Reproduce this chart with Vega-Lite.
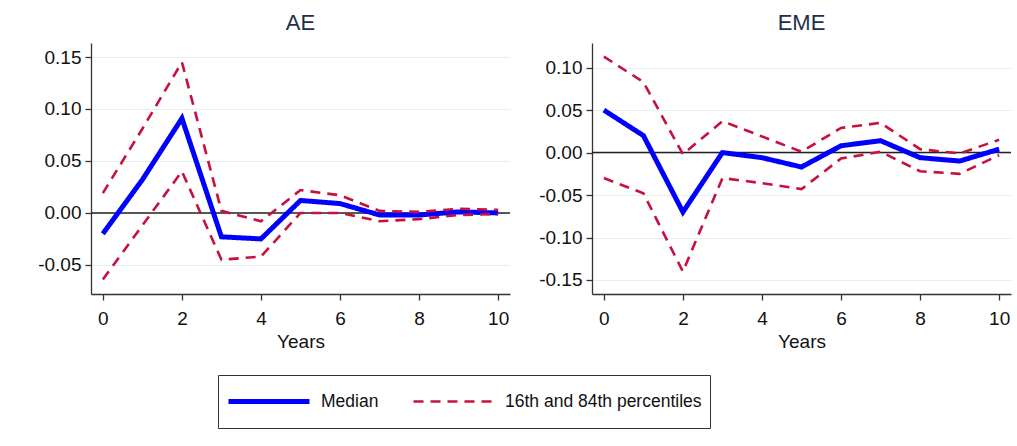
{
  "$schema": "https://vega.github.io/schema/vega-lite/v6.json",
  "background": "white",
  "padding": {"left": 37, "top": 12, "right": 5, "bottom": 5},
  "datasets": {
    "irf": [
      {"panel": "AE", "year": 0, "series": "Median", "bound": "mid", "value": -0.020},
      {"panel": "AE", "year": 1, "series": "Median", "bound": "mid", "value": 0.032},
      {"panel": "AE", "year": 2, "series": "Median", "bound": "mid", "value": 0.091},
      {"panel": "AE", "year": 3, "series": "Median", "bound": "mid", "value": -0.023},
      {"panel": "AE", "year": 4, "series": "Median", "bound": "mid", "value": -0.025},
      {"panel": "AE", "year": 5, "series": "Median", "bound": "mid", "value": 0.012},
      {"panel": "AE", "year": 6, "series": "Median", "bound": "mid", "value": 0.009},
      {"panel": "AE", "year": 7, "series": "Median", "bound": "mid", "value": -0.002},
      {"panel": "AE", "year": 8, "series": "Median", "bound": "mid", "value": -0.002},
      {"panel": "AE", "year": 9, "series": "Median", "bound": "mid", "value": 0.001},
      {"panel": "AE", "year": 10, "series": "Median", "bound": "mid", "value": 0.000},
      {"panel": "AE", "year": 0, "series": "16th and 84th percentiles", "bound": "hi", "value": 0.019},
      {"panel": "AE", "year": 1, "series": "16th and 84th percentiles", "bound": "hi", "value": 0.081},
      {"panel": "AE", "year": 2, "series": "16th and 84th percentiles", "bound": "hi", "value": 0.145},
      {"panel": "AE", "year": 3, "series": "16th and 84th percentiles", "bound": "hi", "value": 0.002},
      {"panel": "AE", "year": 4, "series": "16th and 84th percentiles", "bound": "hi", "value": -0.008},
      {"panel": "AE", "year": 5, "series": "16th and 84th percentiles", "bound": "hi", "value": 0.022},
      {"panel": "AE", "year": 6, "series": "16th and 84th percentiles", "bound": "hi", "value": 0.017},
      {"panel": "AE", "year": 7, "series": "16th and 84th percentiles", "bound": "hi", "value": 0.002},
      {"panel": "AE", "year": 8, "series": "16th and 84th percentiles", "bound": "hi", "value": 0.001},
      {"panel": "AE", "year": 9, "series": "16th and 84th percentiles", "bound": "hi", "value": 0.004},
      {"panel": "AE", "year": 10, "series": "16th and 84th percentiles", "bound": "hi", "value": 0.003},
      {"panel": "AE", "year": 0, "series": "16th and 84th percentiles", "bound": "lo", "value": -0.064},
      {"panel": "AE", "year": 1, "series": "16th and 84th percentiles", "bound": "lo", "value": -0.012},
      {"panel": "AE", "year": 2, "series": "16th and 84th percentiles", "bound": "lo", "value": 0.040},
      {"panel": "AE", "year": 3, "series": "16th and 84th percentiles", "bound": "lo", "value": -0.045},
      {"panel": "AE", "year": 4, "series": "16th and 84th percentiles", "bound": "lo", "value": -0.042},
      {"panel": "AE", "year": 5, "series": "16th and 84th percentiles", "bound": "lo", "value": 0.000},
      {"panel": "AE", "year": 6, "series": "16th and 84th percentiles", "bound": "lo", "value": 0.000},
      {"panel": "AE", "year": 7, "series": "16th and 84th percentiles", "bound": "lo", "value": -0.008},
      {"panel": "AE", "year": 8, "series": "16th and 84th percentiles", "bound": "lo", "value": -0.006},
      {"panel": "AE", "year": 9, "series": "16th and 84th percentiles", "bound": "lo", "value": -0.002},
      {"panel": "AE", "year": 10, "series": "16th and 84th percentiles", "bound": "lo", "value": -0.001},
      {"panel": "EME", "year": 0, "series": "Median", "bound": "mid", "value": 0.050},
      {"panel": "EME", "year": 1, "series": "Median", "bound": "mid", "value": 0.020},
      {"panel": "EME", "year": 2, "series": "Median", "bound": "mid", "value": -0.070},
      {"panel": "EME", "year": 3, "series": "Median", "bound": "mid", "value": 0.000},
      {"panel": "EME", "year": 4, "series": "Median", "bound": "mid", "value": -0.006},
      {"panel": "EME", "year": 5, "series": "Median", "bound": "mid", "value": -0.017},
      {"panel": "EME", "year": 6, "series": "Median", "bound": "mid", "value": 0.008},
      {"panel": "EME", "year": 7, "series": "Median", "bound": "mid", "value": 0.014},
      {"panel": "EME", "year": 8, "series": "Median", "bound": "mid", "value": -0.006},
      {"panel": "EME", "year": 9, "series": "Median", "bound": "mid", "value": -0.010},
      {"panel": "EME", "year": 10, "series": "Median", "bound": "mid", "value": 0.004},
      {"panel": "EME", "year": 0, "series": "16th and 84th percentiles", "bound": "hi", "value": 0.113},
      {"panel": "EME", "year": 1, "series": "16th and 84th percentiles", "bound": "hi", "value": 0.083},
      {"panel": "EME", "year": 2, "series": "16th and 84th percentiles", "bound": "hi", "value": -0.002},
      {"panel": "EME", "year": 3, "series": "16th and 84th percentiles", "bound": "hi", "value": 0.037},
      {"panel": "EME", "year": 4, "series": "16th and 84th percentiles", "bound": "hi", "value": 0.019},
      {"panel": "EME", "year": 5, "series": "16th and 84th percentiles", "bound": "hi", "value": 0.001},
      {"panel": "EME", "year": 6, "series": "16th and 84th percentiles", "bound": "hi", "value": 0.029},
      {"panel": "EME", "year": 7, "series": "16th and 84th percentiles", "bound": "hi", "value": 0.035},
      {"panel": "EME", "year": 8, "series": "16th and 84th percentiles", "bound": "hi", "value": 0.004},
      {"panel": "EME", "year": 9, "series": "16th and 84th percentiles", "bound": "hi", "value": -0.001},
      {"panel": "EME", "year": 10, "series": "16th and 84th percentiles", "bound": "hi", "value": 0.015},
      {"panel": "EME", "year": 0, "series": "16th and 84th percentiles", "bound": "lo", "value": -0.030},
      {"panel": "EME", "year": 1, "series": "16th and 84th percentiles", "bound": "lo", "value": -0.048},
      {"panel": "EME", "year": 2, "series": "16th and 84th percentiles", "bound": "lo", "value": -0.140},
      {"panel": "EME", "year": 3, "series": "16th and 84th percentiles", "bound": "lo", "value": -0.030},
      {"panel": "EME", "year": 4, "series": "16th and 84th percentiles", "bound": "lo", "value": -0.036},
      {"panel": "EME", "year": 5, "series": "16th and 84th percentiles", "bound": "lo", "value": -0.043},
      {"panel": "EME", "year": 6, "series": "16th and 84th percentiles", "bound": "lo", "value": -0.007},
      {"panel": "EME", "year": 7, "series": "16th and 84th percentiles", "bound": "lo", "value": 0.001},
      {"panel": "EME", "year": 8, "series": "16th and 84th percentiles", "bound": "lo", "value": -0.022},
      {"panel": "EME", "year": 9, "series": "16th and 84th percentiles", "bound": "lo", "value": -0.025},
      {"panel": "EME", "year": 10, "series": "16th and 84th percentiles", "bound": "lo", "value": -0.003}
    ]
  },
  "spacing": 27,
  "hconcat": [
    {
      "width": 419,
      "height": 251,
      "title": {"text": "AE"},
      "layer": [
        {
          "data": {"values": [{}]},
          "mark": {"type": "rule", "color": "#222222", "strokeWidth": 1.5},
          "encoding": {"y": {"datum": 0, "type": "quantitative"}}
        },
        {
          "data": {"name": "irf"},
          "transform": [{"filter": "datum.panel === 'AE'"}],
          "mark": {"type": "line", "strokeCap": "butt", "strokeJoin": "miter"},
          "encoding": {
            "x": {"field": "year", "type": "quantitative", "scale": {"domain": [-0.3, 10.3], "nice": false, "zero": false},
                  "axis": {"values": [0, 2, 4, 6, 8, 10], "title": "Years", "grid": false}},
            "y": {"field": "value", "type": "quantitative", "scale": {"domain": [-0.078, 0.1635], "nice": false, "zero": false},
                  "axis": {"values": [-0.05, 0, 0.05, 0.1, 0.15], "labelExpr": "datum.value < 0 ? '-' + format(-datum.value, '.2f') : format(datum.value, '.2f')", "title": null, "grid": true}},
            "color": {"field": "series", "type": "nominal", "scale": {"domain": ["Median", "16th and 84th percentiles"], "range": ["#0000ff", "#c8103c"]}, "legend": {"title": null}},
            "strokeDash": {"field": "series", "type": "nominal", "scale": {"domain": ["Median", "16th and 84th percentiles"], "range": [[1, 0], [10, 7]]}, "legend": {"title": null}},
            "strokeWidth": {"field": "series", "type": "nominal", "scale": {"domain": ["Median", "16th and 84th percentiles"], "range": [5, 2.6]}, "legend": {"title": null}},
            "detail": {"field": "bound", "type": "nominal"}
          }
        }
      ]
    },
    {
      "width": 419,
      "height": 251,
      "title": {"text": "EME"},
      "layer": [
        {
          "data": {"values": [{}]},
          "mark": {"type": "rule", "color": "#222222", "strokeWidth": 1.5},
          "encoding": {"y": {"datum": 0, "type": "quantitative"}}
        },
        {
          "data": {"name": "irf"},
          "transform": [{"filter": "datum.panel === 'EME'"}],
          "mark": {"type": "line", "strokeCap": "butt", "strokeJoin": "miter"},
          "encoding": {
            "x": {"field": "year", "type": "quantitative", "scale": {"domain": [-0.3, 10.3], "nice": false, "zero": false},
                  "axis": {"values": [0, 2, 4, 6, 8, 10], "title": "Years", "grid": false}},
            "y": {"field": "value", "type": "quantitative", "scale": {"domain": [-0.1665, 0.129], "nice": false, "zero": false},
                  "axis": {"values": [-0.15, -0.1, -0.05, 0, 0.05, 0.1], "labelExpr": "datum.value < 0 ? '-' + format(-datum.value, '.2f') : format(datum.value, '.2f')", "title": null, "grid": true}},
            "color": {"field": "series", "type": "nominal", "scale": {"domain": ["Median", "16th and 84th percentiles"], "range": ["#0000ff", "#c8103c"]}, "legend": {"title": null}},
            "strokeDash": {"field": "series", "type": "nominal", "scale": {"domain": ["Median", "16th and 84th percentiles"], "range": [[1, 0], [10, 7]]}, "legend": {"title": null}},
            "strokeWidth": {"field": "series", "type": "nominal", "scale": {"domain": ["Median", "16th and 84th percentiles"], "range": [5, 2.6]}, "legend": {"title": null}},
            "detail": {"field": "bound", "type": "nominal"}
          }
        }
      ]
    }
  ],
  "resolve": {
    "scale": {"color": "shared", "strokeDash": "shared", "strokeWidth": "shared", "y": "independent", "x": "independent"},
    "legend": {"color": "shared", "strokeDash": "shared", "strokeWidth": "shared"}
  },
  "config": {
    "font": "Liberation Sans",
    "view": {"stroke": null},
    "axis": {
      "labelFontSize": 19,
      "labelColor": "#111111",
      "labelFont": "Liberation Sans",
      "domainColor": "#333333",
      "domainWidth": 1.3,
      "tickColor": "#333333",
      "tickWidth": 1.3,
      "tickSize": 6,
      "labelPadding": 4,
      "titleFontSize": 19,
      "titleFontWeight": "normal",
      "titleColor": "#111111",
      "titleFont": "Liberation Sans",
      "titlePadding": 4,
      "gridColor": "#e6eef1",
      "gridWidth": 1.2
    },
    "axisX": {"labelPadding": 9},
    "title": {"fontSize": 22, "fontWeight": "normal", "color": "#1e2f4a", "font": "Liberation Sans", "offset": 8, "anchor": "middle"},
    "legend": {
      "orient": "none",
      "direction": "horizontal",
      "legendX": 127,
      "legendY": 332,
      "symbolType": "stroke",
      "symbolSize": 6561,
      "clipHeight": 37,
      "labelFontSize": 17.5,
      "labelLimit": 400,
      "labelColor": "#111111",
      "labelFont": "Liberation Sans",
      "labelOffset": 9,
      "columnPadding": 33,
      "strokeColor": "#333333",
      "padding": 8
    }
  }
}
